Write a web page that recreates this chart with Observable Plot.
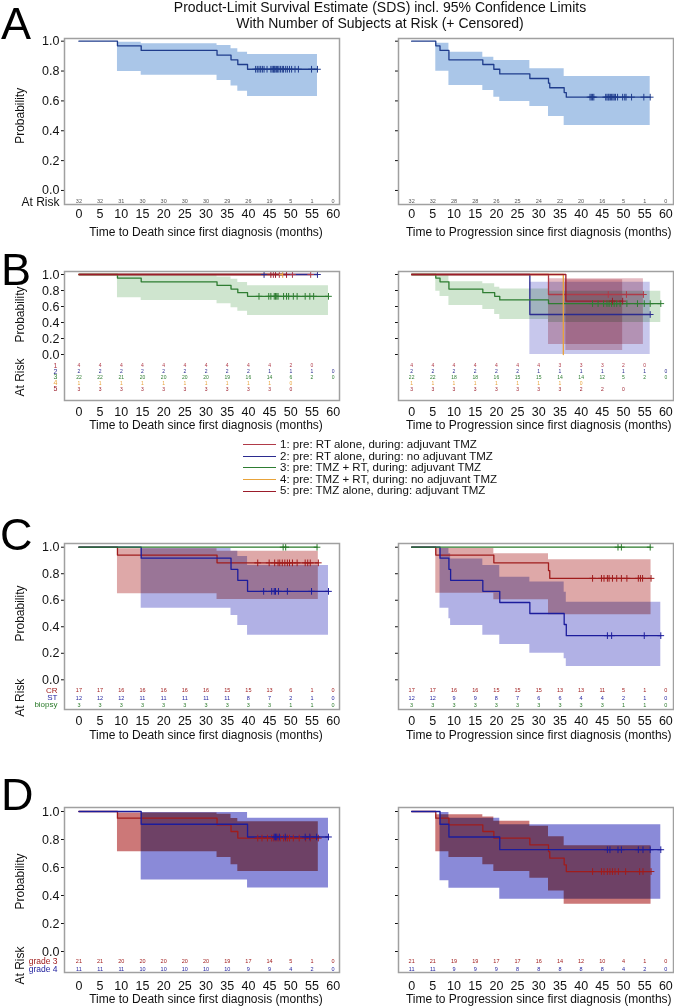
<!DOCTYPE html>
<html><head><meta charset="utf-8">
<script src="https://cdn.jsdelivr.net/npm/d3@7"></script>
<script src="https://cdn.jsdelivr.net/npm/@observablehq/plot@0.6"></script>
<style>
body{margin:0;background:#fff;font-family:"Liberation Sans",Arial,sans-serif;}
#page{position:relative;width:674px;height:1006px;overflow:hidden;background:#fff;}
#page svg{position:absolute;overflow:visible;}
.letter{position:absolute;font-size:45px;line-height:45px;color:#000;z-index:5;}
.title{position:absolute;left:130px;width:500px;top:0px;text-align:center;font-size:14px;line-height:15.5px;color:#111;z-index:5;}
.legend{position:absolute;left:243px;top:439px;font-size:11.5px;line-height:11.6px;color:#111;z-index:5;}
.legend div{display:flex;align-items:center;height:11.6px;white-space:nowrap;}
.legend span.sw{display:inline-block;width:33px;height:0;border-top:1.8px solid;margin-right:4px;}
</style></head><body><div id="page"></div>
<script>
// ---------- shared ----------
const xTicks = [0,5,10,15,20,25,30,35,40,45,50,55,60];
const yTicks = [0,0.2,0.4,0.6,0.8,1.0];
const titleLines = ["Product-Limit Survival Estimate (SDS) incl. 95% Confidence Limits","With Number of Subjects at Risk (+ Censored)"];
const xLabelOS = "Time to Death since first diagnosis (months)";
const xLabelPFS = "Time to Progression since first diagnosis (months)";

// ---------- Panel A ----------
const A_os_steps = [[0,1],[9.1,0.969],[14.7,0.938],[32.6,0.906],[35.9,0.875],[37.5,0.844],[39.8,0.812]];
const A_os_end = 56.3;
const A_os_cens = [41.7,42.1,42.5,42.9,43.3,43.7,44.4,45.3,45.6,45.9,46.1,46.3,46.6,46.9,47.2,47.6,48.0,48.3,48.8,49.2,49.7,50.2,51.0,51.8,54.9,56.3];
const A_os_ci = [[9.1,0.797,0.993],[14.7,0.772,0.982],[32.6,0.737,0.971],[35.9,0.699,0.949],[37.5,0.665,0.926],[39.8,0.63,0.911]];
const A_os_risk = [32,32,31,30,30,30,30,29,26,19,5,1,0];

const A_pfs_steps = [[0,1],[5.7,0.969],[6.7,0.938],[8.8,0.875],[16.8,0.844],[19.4,0.812],[20.8,0.781],[27.9,0.75],[32.3,0.719],[32.6,0.688],[36.0,0.656],[36.5,0.625]];
const A_pfs_end = 56.3;
const A_pfs_cens = [42.1,42.4,42.7,43.0,45.8,46.1,46.4,46.6,46.9,47.2,47.5,47.8,48.1,48.6,49.8,50.3,50.6,51.9,54.8,56.3];
const A_pfs_ci = [[5.7,0.799,0.987],[8.8,0.703,0.926],[16.8,0.67,0.893],[19.4,0.625,0.871],[20.8,0.596,0.871],[27.9,0.563,0.815],[32.3,0.496,0.815],[36.0,0.435,0.764]];
const A_pfs_risk = [32,32,28,28,26,25,24,22,20,16,5,1,0];

// ---------- Panel B ----------
const B_groups = ["1","2","3","4","5"];
const B_legend = ["1: pre: RT alone, during: adjuvant TMZ","2: pre: RT alone, during: no adjuvant TMZ","3: pre: TMZ + RT, during: adjuvant TMZ","4: pre: TMZ + RT, during: no adjuvant TMZ","5: pre: TMZ alone, during: adjuvant TMZ"];

const B_os_g1_steps = [[0,1]]; const B_os_g1_end = 54.7; const B_os_g1_cens = [45.9,47.3,50.4,54.7];
const B_os_g1_risk = [4,4,4,4,4,4,4,4,4,4,2,0];
const B_os_g2_steps = [[0,1]]; const B_os_g2_end = 56.3; const B_os_g2_cens = [43.7,56.3];
const B_os_g2_risk = [2,2,2,2,2,2,2,2,2,1,1,1,0];
const B_os_g3_steps = [[0,1],[9.1,0.955],[14.7,0.909],[32.6,0.864],[35.9,0.818],[37.5,0.773],[39.8,0.727]];
const B_os_g3_end = 58.9;
const B_os_g3_cens = [42.5,44.8,45.3,46.1,46.4,46.7,47.0,48.3,49.0,49.5,50.6,51.5,53.4,54.5,55.4,58.9];
const B_os_g3_ci = [[9.1,0.71,0.99],[14.7,0.675,0.99],[32.6,0.633,0.97],[35.9,0.583,0.94],[37.5,0.54,0.90],[39.8,0.4875,0.86]];
const B_os_g3_risk = [22,22,21,20,20,20,20,19,16,14,6,2,0];
const B_os_g4_steps = [[0,1]]; const B_os_g4_end = 48.1; const B_os_g4_cens = [48.1];
const B_os_g4_risk = [1,1,1,1,1,1,1,1,1,1,0];
const B_os_g5_steps = [[0,1]]; const B_os_g5_end = 49.0; const B_os_g5_cens = [45.3,46.4,49.0];
const B_os_g5_risk = [3,3,3,3,3,3,3,3,3,3,0];

const B_pfs_g1_steps = [[0,1],[32.3,0.75]]; const B_pfs_g1_end = 54.7; const B_pfs_g1_cens = [46.4,50.7,54.7];
const B_pfs_g1_ci = [[32.3,0.125,0.946]];
const B_pfs_g1_risk = [4,4,4,4,4,4,4,3,3,3,2,0];
const B_pfs_g2_steps = [[0,1],[27.9,0.5]]; const B_pfs_g2_end = 56.3; const B_pfs_g2_cens = [56.3];
const B_pfs_g2_ci = [[27.9,0.0,0.904]];
const B_pfs_g2_risk = [2,2,2,2,2,2,1,1,1,1,1,1,0];
const B_pfs_g3_steps = [[0,1],[5.7,0.955],[6.7,0.909],[8.8,0.818],[16.8,0.773],[19.6,0.727],[20.8,0.682],[32.3,0.636]];
const B_pfs_g3_end = 58.8;
const B_pfs_g3_cens = [42.7,44.0,45.3,46.1,46.6,47.2,47.8,48.4,49.2,50.8,53.3,54.9,56.3,58.8];
const B_pfs_g3_ci = [[5.7,0.79,0.99],[6.7,0.725,0.99],[8.8,0.6125,0.91],[16.8,0.5625,0.883],[19.6,0.5,0.842],[20.8,0.4375,0.82],[32.3,0.40,0.79]];
const B_pfs_g3_risk = [22,22,18,18,16,15,15,14,14,12,5,2,0];
const B_pfs_g4_steps = [[0,1],[35.8,0]]; const B_pfs_g4_end = 35.8; const B_pfs_g4_cens = [];
const B_pfs_g4_risk = [1,1,1,1,1,1,1,1,0];
const B_pfs_g5_steps = [[0,1],[36.4,0.667]]; const B_pfs_g5_end = 49.8; const B_pfs_g5_cens = [47.4,49.8];
const B_pfs_g5_ci = [[36.4,0.05,0.933]];
const B_pfs_g5_risk = [3,3,3,3,3,3,3,3,2,2,0];

// ---------- Panel C ----------
const C_groups = ["CR","ST","biopsy"];
const C_os_cr_steps = [[0,1],[9.1,0.941],[32.6,0.882]]; const C_os_cr_end = 56.5;
const C_os_cr_cens = [42.2,44.9,46.2,47.0,47.4,48.0,48.6,49.2,49.7,50.4,51.5,53.4,54.0,54.6,56.5];
const C_os_cr_ci = [[9.1,0.649,0.988],[32.6,0.606,0.97]];
const C_os_cr_risk = [17,17,16,16,16,16,16,15,15,13,6,1,0];
const C_os_st_steps = [[0,1],[14.7,0.917],[35.9,0.833],[37.5,0.75],[39.8,0.667]]; const C_os_st_end = 58.9;
const C_os_st_cens = [43.6,45.5,46.1,46.4,47.1,49.2,54.9,58.9];
const C_os_st_ci = [[14.7,0.54,0.99],[35.9,0.485,0.97],[37.5,0.41,0.93],[39.8,0.336,0.862]];
const C_os_st_risk = [12,12,12,11,11,11,11,11,8,7,2,1,0];
const C_os_bx_steps = [[0,1]]; const C_os_bx_end = 56.2; const C_os_bx_cens = [48.2,48.8,56.2];
const C_os_bx_risk = [3,3,3,3,3,3,3,3,3,3,1,1,0];

const C_pfs_cr_steps = [[0,1],[5.7,0.941],[19.4,0.882],[32.3,0.824],[32.6,0.765]]; const C_pfs_cr_end = 56.5;
const C_pfs_cr_cens = [42.7,44.8,45.4,46.2,46.6,47.4,48.4,49.5,50.8,53.5,54.0,54.5,56.5];
const C_pfs_cr_ci = [[5.7,0.653,0.99],[19.4,0.603,0.95],[32.3,0.49,0.905]];
const C_pfs_cr_risk = [17,17,16,16,15,15,15,13,13,11,5,1,0];
const C_pfs_st_steps = [[0,1],[6.7,0.917],[8.8,0.833],[9.2,0.75],[16.8,0.667],[20.8,0.583],[27.9,0.5],[36.0,0.417],[36.5,0.333]]; const C_pfs_st_end = 58.8;
const C_pfs_st_cens = [46.2,47.2,54.9,58.8];
const C_pfs_st_ci = [[6.7,0.54,0.99],[8.8,0.46,0.95],[9.2,0.41,0.912],[16.8,0.336,0.862],[20.8,0.266,0.774],[27.9,0.2,0.737],[36.0,0.158,0.661],[36.5,0.10,0.585]];
const C_pfs_st_risk = [12,12,9,9,8,7,6,6,4,4,2,1,0];
const C_pfs_bx_steps = [[0,1]]; const C_pfs_bx_end = 56.3; const C_pfs_bx_cens = [48.7,49.5,56.3];
const C_pfs_bx_risk = [3,3,3,3,3,3,3,3,3,3,1,1,0];

// ---------- Panel D ----------
const D_groups = ["grade 3","grade 4"];
const D_os_g3_steps = [[0,1],[9.1,0.952],[32.6,0.905],[35.9,0.857],[37.5,0.81]]; const D_os_g3_end = 56.5;
const D_os_g3_cens = [42.2,43.2,44.5,45.5,46.0,46.5,47.0,47.5,48.3,48.8,49.2,49.7,50.6,52.0,53.5,54.6,56.5];
const D_os_g3_ci = [[9.1,0.712,0.99],[32.6,0.671,0.98],[35.9,0.619,0.95],[37.5,0.571,0.926]];
const D_os_g3_risk = [21,21,20,20,20,20,20,19,17,14,5,1,0];
const D_os_g4_steps = [[0,1],[14.7,0.909],[39.8,0.818]]; const D_os_g4_end = 58.9;
const D_os_g4_cens = [46.1,46.4,46.7,47.3,48.7,53.4,54.5,56.1,58.9];
const D_os_g4_ci = [[14.7,0.51,0.993],[39.8,0.453,0.952]];
const D_os_g4_risk = [11,11,11,10,10,10,10,10,9,9,4,2,0];

const D_pfs_g3_steps = [[0,1],[5.7,0.952],[8.8,0.905],[16.8,0.857],[19.4,0.81],[27.9,0.762],[32.3,0.714],[32.6,0.667],[36.0,0.619],[36.5,0.571]]; const D_pfs_g3_end = 56.5;
const D_pfs_g3_cens = [42.7,44.8,45.4,46.2,46.8,47.4,48.0,48.8,50.5,53.8,54.6,56.5];
const D_pfs_g3_ci = [[5.7,0.712,0.976],[8.8,0.671,0.976],[16.8,0.619,0.96],[19.4,0.571,0.93],[27.9,0.524,0.895],[32.3,0.433,0.82],[36.0,0.338,0.755]];
const D_pfs_g3_risk = [21,21,19,19,17,17,16,14,12,10,4,1,0];
const D_pfs_g4_steps = [[0,1],[6.7,0.909],[8.8,0.818],[20.8,0.727]]; const D_pfs_g4_end = 58.8;
const D_pfs_g4_cens = [46.2,46.8,48.7,49.5,53.5,54.6,56.3,58.8];
const D_pfs_g4_ci = [[6.7,0.505,0.993],[8.8,0.452,0.952],[20.8,0.374,0.905]];
const D_pfs_g4_risk = [11,11,9,9,9,8,8,8,8,8,4,2,0];

// ---------- styles ----------
const S = {
  aLine:"#1f3c8c", aBand:"#aac6e8", aRisk:"#555",
  g1:"#b03a48", g2:"#2b2b8f", g3:"#2e7d32", g4:"#e8a33a", g5:"#9b1c2a",
  red:"#a01c1c", blue:"#1c1c9c", green:"#2a7a2a",
  bandGreen:"#5fa85f", bandBlue:"#4646c0", bandRed:"#b03048"
};

// ---------- helpers ----------
const page = document.getElementById("page");
function survAt(steps, t){ let s = 1; for (const [u,v] of steps) if (u <= t) s = v; return s; }
function stepData(steps, end){ const d = steps.map(([t,s])=>({t,s})); d.push({t:end, s:steps[steps.length-1][1]}); return d; }
function ciData(ci, end){ const d = ci.map(([t,lo,hi])=>({t,lo,hi})); const l = ci[ci.length-1]; d.push({t:end, lo:l[1], hi:l[2]}); return d; }

function makePanel(cfg){
  const marks = [];
  for (const c of cfg.curves) if (c.ci) marks.push(Plot.areaY(ciData(c.ci,c.end), {x:"t", y1:"lo", y2:"hi", curve:"step-after", fill:c.band, fillOpacity:c.bandOpacity, mixBlendMode: cfg.blend || "normal"}));
  for (const c of cfg.curves) marks.push(Plot.line(stepData(c.steps,c.end), {x:"t", y:"s", curve:"step-after", stroke:c.color, strokeWidth:1.3}));
  for (const c of cfg.curves) if (c.cens.length) marks.push(Plot.dot(c.cens.map(t=>({t, s:survAt(c.steps,t)})), {x:"t", y:"s", symbol:"plus", r:2.3, stroke:c.color, strokeWidth:1}));
  cfg.curves.forEach((c,i)=>{
    marks.push(Plot.text(c.risk.map((n,j)=>({t:xTicks[j], n})), {x:"t", y:()=>cfg.rows[i], text:"n", fill:c.riskColor || c.color, fontSize:cfg.riskSize || 5.5}));
  });
  marks.push(Plot.frame({stroke:"#a0a0a0", strokeWidth:1.5}));
  if (cfg.left){
    marks.push(Plot.text(["Probability"], {frameAnchor:"left", y:()=>0.5, dx:-44, rotate:-90, textAnchor:"middle", fontSize:12, fill:"#111"}));
    if (cfg.atRiskHorizontal){
      marks.push(Plot.text(["At Risk"], {frameAnchor:"left", y:()=>cfg.rows[0], dx:-5, dy:1, textAnchor:"end", fontSize:12, fill:"#111"}));
    } else {
      const mid = (cfg.rows[0] + cfg.rows[cfg.rows.length-1]) / 2;
      marks.push(Plot.text(["At Risk"], {frameAnchor:"left", y:()=>mid, dx:-44, rotate:-90, textAnchor:"middle", fontSize:12, fill:"#111"}));
      marks.push(Plot.text(cfg.rowLabels, {frameAnchor:"left", y:(d,i)=>cfg.rows[i], dx:-7, textAnchor:"end", fontSize:cfg.rowLabelSize || 8.5, fill:(d,i)=>cfg.curves[i].color}));
    }
  }
  marks.push(Plot.text([cfg.xLabel], {x:()=>30, frameAnchor:"bottom", dy:cfg.xLabelDy, fontSize:12, fill:"#111"}));
  const svg = Plot.plot({
    width: cfg.width, height: cfg.height,
    marginTop: cfg.mTop, marginBottom: cfg.mBottom, marginLeft: cfg.mLeft, marginRight: cfg.mRight,
    x: {domain: cfg.xDomain, ticks: xTicks, tickSize: 0, tickPadding: cfg.tickPad, label: null},
    y: {domain: cfg.yDomain, ticks: yTicks, tickSize: 3, tickPadding: 2, label: null, tickFormat: cfg.left ? d3.format(".1f") : () => ""},
    style: {fontSize:"12.5px", fontFamily:"'Liberation Sans', Arial, sans-serif", background:"transparent", color:"#111"},
    marks
  });
  svg.style.left = cfg.x + "px";
  svg.style.top = cfg.y + "px";
  page.appendChild(svg);
}

const L = {x:0, width:342, mLeft:64, mRight:3, xDomain:[-3.4,61.5], left:true};
const R = {x:342, width:332, mLeft:56, mRight:1, xDomain:[-3.1,61.8], left:false};
const A = {y:30, height:215, mTop:8, mBottom:41, yDomain:[-0.094,1.018], tickPad:4.5, xLabelDy:31, rows:[-0.074], atRiskHorizontal:true};
const B = {y:245, height:190, mTop:26, mBottom:35, yDomain:[-0.575,1.0375], tickPad:6.5, xLabelDy:28, rows:[-0.141,-0.2125,-0.284,-0.359,-0.434], rowLabels:B_groups, riskSize:5, rowLabelSize:7};
const C = {y:500, height:245, mTop:43, mBottom:36, yDomain:[-0.224,1.028], tickPad:6.5, xLabelDy:29.5, rows:[-0.081,-0.136,-0.189], rowLabels:C_groups, rowLabelSize:8};
const D = {y:745, height:261, mTop:62, mBottom:34, yDomain:[-0.15,1.0286], tickPad:8.5, xLabelDy:30, rows:[-0.071,-0.129], rowLabels:D_groups, rowLabelSize:8.5};

// Panel A
makePanel({...L, ...A, xLabel:xLabelOS, curves:[
  {steps:A_os_steps, end:A_os_end, cens:A_os_cens, ci:A_os_ci, risk:A_os_risk, color:S.aLine, band:S.aBand, bandOpacity:1, riskColor:S.aRisk}]});
makePanel({...R, ...A, xLabel:xLabelPFS, curves:[
  {steps:A_pfs_steps, end:A_pfs_end, cens:A_pfs_cens, ci:A_pfs_ci, risk:A_pfs_risk, color:S.aLine, band:S.aBand, bandOpacity:1, riskColor:S.aRisk}]});

// Panel B
makePanel({...L, ...B, xLabel:xLabelOS, blend:"multiply", curves:[
  {steps:B_os_g1_steps, end:B_os_g1_end, cens:B_os_g1_cens, risk:B_os_g1_risk, color:S.g1},
  {steps:B_os_g2_steps, end:B_os_g2_end, cens:B_os_g2_cens, risk:B_os_g2_risk, color:S.g2},
  {steps:B_os_g3_steps, end:B_os_g3_end, cens:B_os_g3_cens, ci:B_os_g3_ci, risk:B_os_g3_risk, color:S.g3, band:S.bandGreen, bandOpacity:0.3},
  {steps:B_os_g4_steps, end:B_os_g4_end, cens:B_os_g4_cens, risk:B_os_g4_risk, color:S.g4},
  {steps:B_os_g5_steps, end:B_os_g5_end, cens:B_os_g5_cens, risk:B_os_g5_risk, color:S.g5}]});
makePanel({...R, ...B, xLabel:xLabelPFS, blend:"multiply", curves:[
  {steps:B_pfs_g1_steps, end:B_pfs_g1_end, cens:B_pfs_g1_cens, ci:B_pfs_g1_ci, risk:B_pfs_g1_risk, color:S.g1, band:S.bandRed, bandOpacity:0.33},
  {steps:B_pfs_g2_steps, end:B_pfs_g2_end, cens:B_pfs_g2_cens, ci:B_pfs_g2_ci, risk:B_pfs_g2_risk, color:S.g2, band:S.bandBlue, bandOpacity:0.3},
  {steps:B_pfs_g3_steps, end:B_pfs_g3_end, cens:B_pfs_g3_cens, ci:B_pfs_g3_ci, risk:B_pfs_g3_risk, color:S.g3, band:S.bandGreen, bandOpacity:0.3},
  {steps:B_pfs_g4_steps, end:B_pfs_g4_end, cens:B_pfs_g4_cens, risk:B_pfs_g4_risk, color:S.g4},
  {steps:B_pfs_g5_steps, end:B_pfs_g5_end, cens:B_pfs_g5_cens, ci:B_pfs_g5_ci, risk:B_pfs_g5_risk, color:S.g5, band:S.bandRed, bandOpacity:0.33}]});

// Panel C
makePanel({...L, ...C, xLabel:xLabelOS, blend:"multiply", curves:[
  {steps:C_os_cr_steps, end:C_os_cr_end, cens:C_os_cr_cens, ci:C_os_cr_ci, risk:C_os_cr_risk, color:S.red, band:"#b03030", bandOpacity:0.42},
  {steps:C_os_st_steps, end:C_os_st_end, cens:C_os_st_cens, ci:C_os_st_ci, risk:C_os_st_risk, color:S.blue, band:"#3c3cbe", bandOpacity:0.4},
  {steps:C_os_bx_steps, end:C_os_bx_end, cens:C_os_bx_cens, risk:C_os_bx_risk, color:S.green}]});
makePanel({...R, ...C, xLabel:xLabelPFS, blend:"multiply", curves:[
  {steps:C_pfs_cr_steps, end:C_pfs_cr_end, cens:C_pfs_cr_cens, ci:C_pfs_cr_ci, risk:C_pfs_cr_risk, color:S.red, band:"#b03030", bandOpacity:0.42},
  {steps:C_pfs_st_steps, end:C_pfs_st_end, cens:C_pfs_st_cens, ci:C_pfs_st_ci, risk:C_pfs_st_risk, color:S.blue, band:"#3c3cbe", bandOpacity:0.4},
  {steps:C_pfs_bx_steps, end:C_pfs_bx_end, cens:C_pfs_bx_cens, risk:C_pfs_bx_risk, color:S.green}]});

// Panel D
makePanel({...L, ...D, xLabel:xLabelOS, blend:"multiply", curves:[
  {steps:D_os_g3_steps, end:D_os_g3_end, cens:D_os_g3_cens, ci:D_os_g3_ci, risk:D_os_g3_risk, color:S.red, band:"#b03030", bandOpacity:0.65},
  {steps:D_os_g4_steps, end:D_os_g4_end, cens:D_os_g4_cens, ci:D_os_g4_ci, risk:D_os_g4_risk, color:S.blue, band:"#3c3cbe", bandOpacity:0.6}]});
makePanel({...R, ...D, xLabel:xLabelPFS, blend:"multiply", curves:[
  {steps:D_pfs_g3_steps, end:D_pfs_g3_end, cens:D_pfs_g3_cens, ci:D_pfs_g3_ci, risk:D_pfs_g3_risk, color:S.red, band:"#b03030", bandOpacity:0.65},
  {steps:D_pfs_g4_steps, end:D_pfs_g4_end, cens:D_pfs_g4_cens, ci:D_pfs_g4_ci, risk:D_pfs_g4_risk, color:S.blue, band:"#3c3cbe", bandOpacity:0.6}]});

// Title, letters, legend (HTML text)
const t = document.createElement("div"); t.className = "title";
t.innerHTML = titleLines.map(s => `<div>${s}</div>`).join(""); page.appendChild(t);
[["A",1,1],["B",1,247],["C",0,512],["D",1,772]].forEach(([s,x,y])=>{
  const d = document.createElement("div"); d.className = "letter"; d.textContent = s;
  d.style.left = x + "px"; d.style.top = y + "px"; page.appendChild(d);
});
const lg = document.createElement("div"); lg.className = "legend";
const legColors = [S.g1, S.g2, S.g3, S.g4, S.g5];
B_legend.forEach((s,i)=>{
  const r = document.createElement("div");
  r.innerHTML = `<span class="sw" style="border-color:${legColors[i]}"></span><span>${s}</span>`;
  lg.appendChild(r);
});
page.appendChild(lg);
</script>
</body></html>
